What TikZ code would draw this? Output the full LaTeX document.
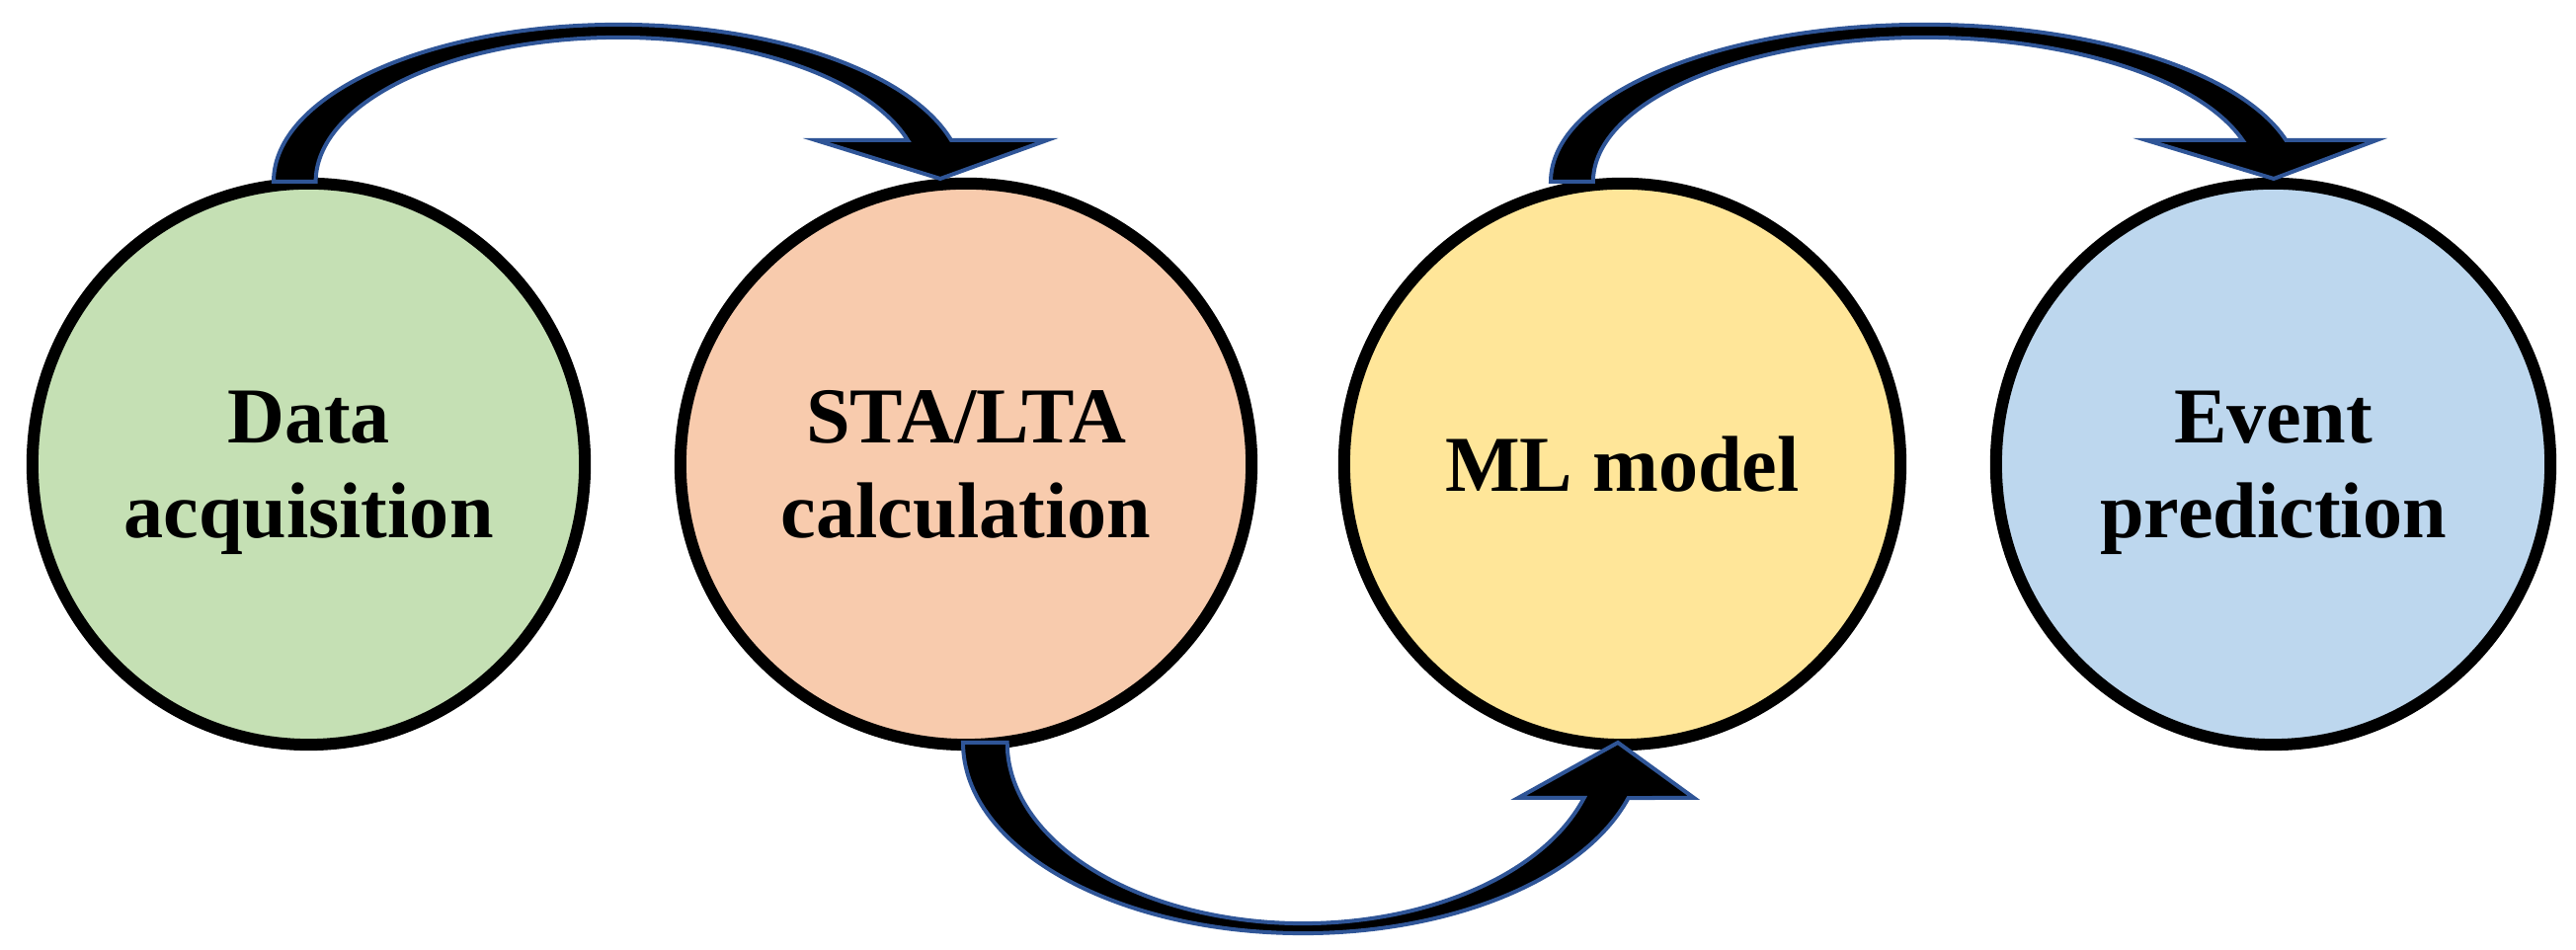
\documentclass[tikz,border=0pt]{standalone}
\usepackage{fontspec}
\setmainfont{Liberation Serif}
\usetikzlibrary{shapes.geometric}
\definecolor{cgreen}{HTML}{C5E0B4}
\definecolor{corange}{HTML}{F8CBAD}
\definecolor{cyellow}{HTML}{FFE699}
\definecolor{cblue}{HTML}{BDD7EE}
\definecolor{aline}{HTML}{2F5597}
\tikzset{
  x=0.01cm, y=0.01cm,
  stage/.style={ellipse, draw=black, line width=0.12cm, inner sep=0pt,
    minimum height=5.68cm, align=center, text depth=0pt,
    font=\fontsize{22.8}{27.3}\selectfont\bfseries},
  bentarrow/.style={fill=black, draw=aline, line width=0.04cm, line join=miter}
}
\begin{document}
\begin{tikzpicture}
\useasboundingbox (0,0) rectangle (2608,962);
% stages
\node[stage, fill=cgreen,  minimum width=5.59cm] (s1) at (312.5,492) {Data\\acquisition};
\node[stage, fill=corange, minimum width=5.78cm] (s2) at (978,492) {STA/LTA\\calculation};
\node[stage, fill=cyellow, minimum width=5.63cm] (s3) at (1642.5,492) {ML model};
\node[stage, fill=cblue,   minimum width=5.61cm] (s4) at (2301.5,492) {Event\\prediction};
% curved arrow s1 -> s2 (over the top)
\coordinate (a1s) at (277,778);
\draw[bentarrow] (a1s)
  arc[start angle=180, end angle=15.3, x radius=3.49cm, y radius=1.59cm]
  -- (1060,820) -- (952,781) -- (826,820) -- (919.05,820)
  arc[start angle=16.72, end angle=180, x radius=3.06cm, y radius=1.46cm]
  -- cycle;
% curved arrow s2 -> s3 (under the bottom)
\coordinate (a2s) at (975,210);
\draw[bentarrow] (a2s)
  arc[start angle=180, end angle=343.13, x radius=3.44cm, y radius=1.93cm]
  -- (1715,154) -- (1638,210) -- (1537,154) -- (1603.7,154)
  arc[start angle=342.18, end angle=180, x radius=2.99cm, y radius=1.83cm]
  -- cycle;
% curved arrow s3 -> s4 (over the top)
\coordinate (a3s) at (1570,778);
\draw[bentarrow] (a3s)
  arc[start angle=180, end angle=15.3, x radius=3.787cm, y radius=1.59cm]
  -- (2406,820) -- (2302,781) -- (2173,820) -- (2270.5,820)
  arc[start angle=16.72, end angle=180, x radius=3.357cm, y radius=1.46cm]
  -- cycle;
\end{tikzpicture}
\end{document}
